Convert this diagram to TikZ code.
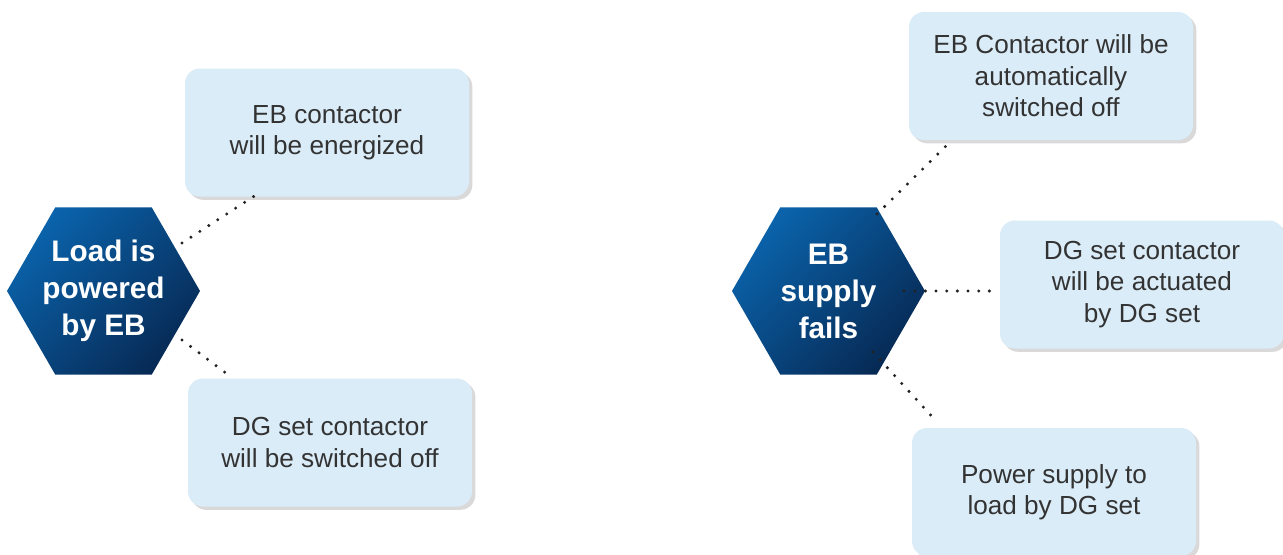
\documentclass[tikz,border=0pt]{standalone}
\usepackage{fontspec}
\setmainfont{Liberation Sans}
\usetikzlibrary{shapes.geometric,shadows,calc}
\definecolor{boxfill}{HTML}{DAECF8}
\definecolor{txt}{HTML}{333333}
\definecolor{hexA}{HTML}{0A63AB}
\definecolor{hexB}{HTML}{072A55}
\definecolor{dotc}{HTML}{222222}
\begin{document}
\begin{tikzpicture}[x=0.75pt,y=-0.75pt,
  infobox/.style={rectangle, rounded corners=11.25pt, fill=boxfill, text=txt,
    align=center, font=\fontsize{19.6}{23.6}\selectfont,
    minimum width=213pt, minimum height=96pt, inner sep=0pt,
    drop shadow={shadow xshift=2.5pt, shadow yshift=-2.5pt, fill=black!15, opacity=1}},
  hexbox/.style={regular polygon, regular polygon sides=6, minimum size=144.75pt,
    inner sep=0pt, top color=hexA, bottom color=hexB, shading angle=45},
  hextext/.style={text=white, align=center, font=\bfseries\fontsize{22.3}{27.75}\selectfont},
  dotline/.style={line width=2.5pt, line cap=round, dash pattern=on 0pt off 8pt, dotc}]
\useasboundingbox (0,0) rectangle (1283,554);
\fill[white] (0,0) rectangle (1283,554);

% hexagons
\node[hexbox] (hexL) at (103.5,291) {};
\node[hextext] (tL) at (hexL.center) {Load is\\powered\\by EB};
\node[hexbox] (hexR) at (828.5,291) {};
\node[hextext] (tR) at (hexR.center) {EB\\supply\\fails};

% boxes
\node[infobox] (b1) at (327,132.5) {EB contactor\\will be energized};
\node[infobox] (b2) at (330,442.5) {DG set contactor\\will be switched off};
\node[infobox] (b3) at (1051,76) {EB Contactor will be\\automatically\\switched off};
\node[infobox] (b4) at (1142,284.5) {DG set contactor\\will be actuated\\by DG set};
\node[infobox] (b5) at (1054,492) {Power supply to\\load by DG set};

% connectors
\coordinate (sL1) at ($(hexL.center)+(78.5,-48)$);
\coordinate (eL1) at ($(b1.south west)+(70,-1)$);
\coordinate (sL2) at ($(hexL.center)+(78.5,49)$);
\coordinate (eL2) at ($(b2.north west)+(45,0)$);
\coordinate (sR1) at ($(hexR.center)+(48.5,-77)$);
\coordinate (eR1) at ($(b3.south west)+(37,6)$);
\coordinate (sR2) at ($(hexR.center)+(75.5,0)$);
\coordinate (sR3) at ($(hexR.center)+(44.5,61)$);
\coordinate (eR3) at ($(b5.north west)+(26,-5)$);
\draw[dotline] (sL1) -- (eL1);
\draw[dotline] (sL2) -- (eL2);
\draw[dotline] (sR1) -- (eR1);
\draw[dotline] (sR2) -- (b4.west |- hexR.center);
\draw[dotline] (sR3) -- (eR3);
\end{tikzpicture}
\end{document}
